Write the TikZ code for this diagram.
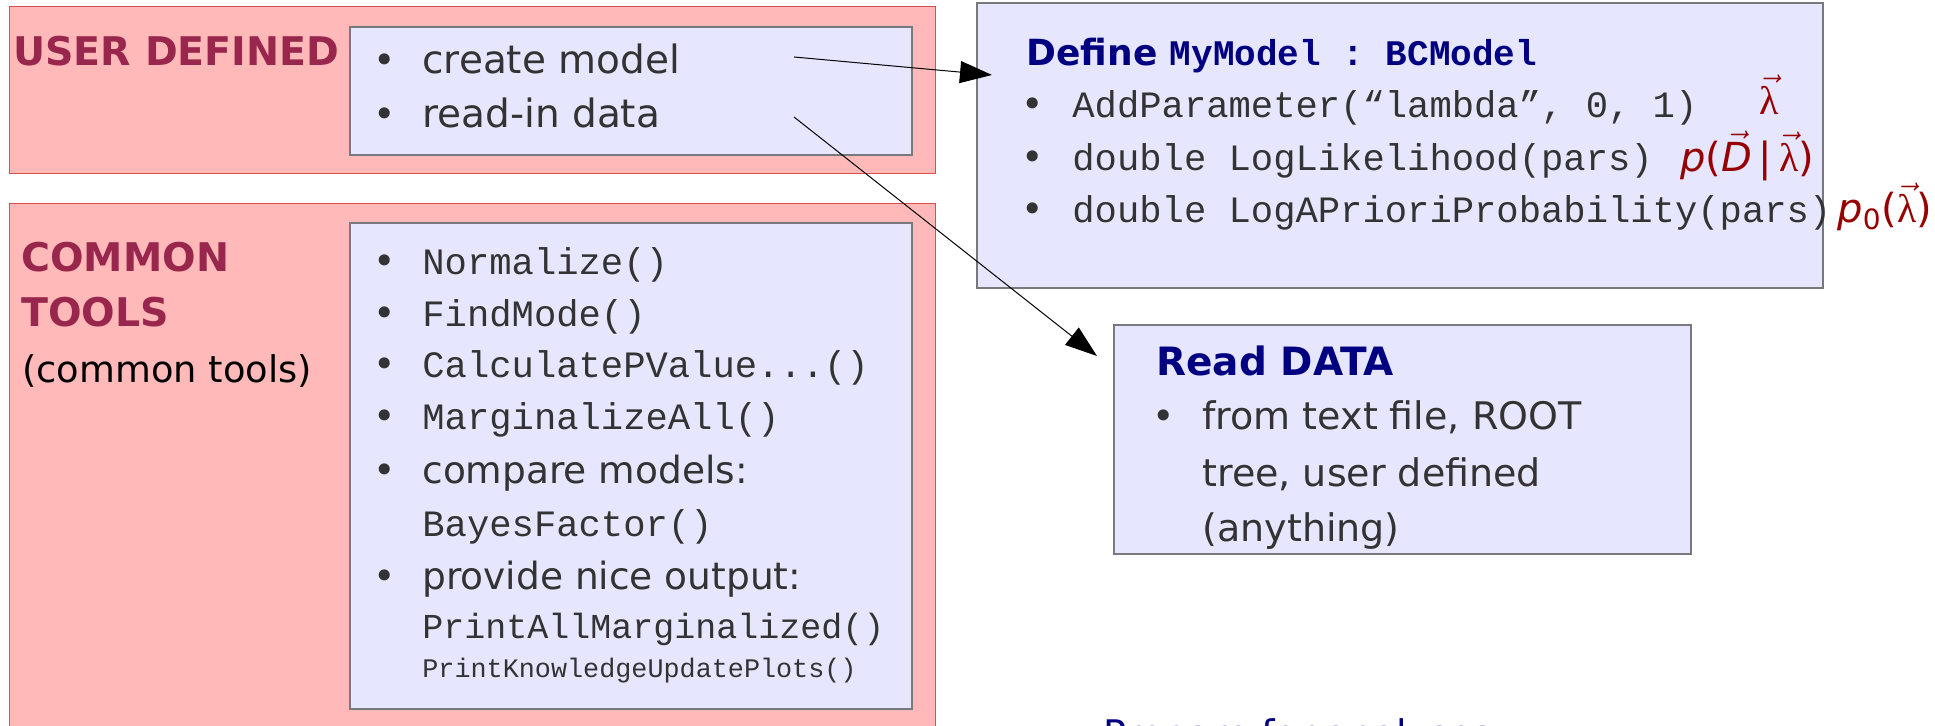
\documentclass[tikz,border=0pt]{standalone}
\usepackage{amsmath}
\usepackage{fontspec}
\setmainfont{DejaVu Sans}
\setmonofont{Liberation Mono}
\newfontfamily\lamfont{Liberation Serif}
\usetikzlibrary{arrows.meta}

\definecolor{pinkfill}{RGB}{255,185,185}
\definecolor{pinkline}{RGB}{215,80,80}
\definecolor{boxfill}{RGB}{230,230,255}
\definecolor{boxline}{RGB}{120,120,125}
\definecolor{titlered}{RGB}{153,38,76}
\definecolor{navyblue}{RGB}{0,0,128}
\definecolor{textgray}{RGB}{51,51,51}
\definecolor{mathred}{RGB}{150,0,0}

\newcommand{\vlam}{\ensuremath{\vec{\text{\lamfont λ}}}}
\newcommand{\vD}{\ensuremath{\vec{\text{\itshape D}}}}

\begin{document}
\begin{tikzpicture}[x=0.5pt, y=-0.5pt,
    outerbox/.style={draw=pinkline, fill=pinkfill, line width=0.5pt, minimum width=463pt, inner sep=0pt},
    innerbox/.style={draw=boxline, fill=boxfill, line width=0.75pt, inner sep=0pt},
    boxtitle/.style={anchor=base west, inner sep=0pt, font=\fontsize{19.75}{23}\selectfont\bfseries},
    textitem/.style={anchor=base west, inner sep=0pt, text=textgray, font=\fontsize{19}{23}\selectfont},
    codeitem/.style={anchor=base west, inner sep=0pt, text=textgray, font=\fontsize{18.6}{22}\selectfont\ttfamily},
    bulletmark/.style={anchor=base, inner sep=0pt, text=textgray, font=\fontsize{19}{23}\selectfont},
    mathlabel/.style={anchor=base west, inner sep=0pt, text=mathred, font=\fontsize{20}{24}\selectfont},
    flowarrow/.style={line width=0.5pt, -{Triangle[length=16pt, width=11pt]}}]

    \useasboundingbox (0, 0) rectangle (1935, 726);
    \clip (0, 0) rectangle (1935, 726);
    \fill[white] (0, 0) rectangle (1935, 726);

    % Boxes
    \node[outerbox, minimum height=83.5pt] at (472, 90.5) (userbox) {};
    \node[innerbox, minimum width=281pt, minimum height=64pt] at (631, 91) (userlist) {};
    \node[outerbox, minimum height=293pt] at (472, 497) (toolbox) {};
    \node[innerbox, minimum width=281pt, minimum height=243pt] at (631, 466) (toollist) {};
    \node[innerbox, minimum width=423pt, minimum height=142.5pt] at (1400, 145.5) (modelbox) {};
    \node[innerbox, minimum width=288.5pt, minimum height=114.5pt] at (1402.5, 439.5) (databox) {};

    % User defined
    \node[boxtitle, text=titlered] at (13, 66) (usertitle) {USER DEFINED};
    \node[bulletmark] at (385, 74) (ub1) {•};
    \node[textitem, font=\fontsize{19.5}{23}\selectfont] at (422, 74) (create) {create model};
    \node[bulletmark] at (385, 128) (ub2) {•};
    \node[textitem, font=\fontsize{19.5}{23}\selectfont] at (422, 128) (readin) {read-in data};

    % Common tools
    \node[boxtitle, text=titlered] at (21, 272) (tooltitle) {COMMON};
    \node[boxtitle, text=titlered] at (21, 327) (tooltitleb) {TOOLS};
    \node[textitem, text=black, font=\fontsize{18.4}{22}\selectfont] at (22, 383) (toolnote) {(common tools)};
    \node[bulletmark] at (385, 275) (tb1) {•};
    \node[codeitem] at (422, 275) (normalize) {Normalize()};
    \node[bulletmark] at (385, 327) (tb2) {•};
    \node[codeitem] at (422, 327) (findmode) {FindMode()};
    \node[bulletmark] at (385, 378) (tb3) {•};
    \node[codeitem] at (422, 378) (pvalue) {CalculatePValue...()};
    \node[bulletmark] at (385, 430) (tb4) {•};
    \node[codeitem] at (422, 430) (margall) {MarginalizeAll()};
    \node[bulletmark] at (385, 484) (tb5) {•};
    \node[textitem, font=\fontsize{18.75}{22}\selectfont] at (422, 484) (compare) {compare models:};
    \node[codeitem] at (422, 537) (bayes) {BayesFactor()};
    \node[bulletmark] at (385, 590) (tb6) {•};
    \node[textitem, font=\fontsize{18.75}{22}\selectfont] at (422, 590) (output) {provide nice output:};
    \node[codeitem, font=\fontsize{17.5}{21}\selectfont\ttfamily] at (422, 639) (printall) {PrintAllMarginalized()};
    \node[codeitem, font=\fontsize{13.4}{16}\selectfont\ttfamily] at (422, 678) (printknow) {PrintKnowledgeUpdatePlots()};

    % Model definition
    \node[boxtitle, text=navyblue, font=\fontsize{18}{22}\selectfont\bfseries] at (1026, 66) (define) {Define \texttt{MyModel : BCModel}};
    \node[bulletmark] at (1033, 118) (mb1) {•};
    \node[codeitem] at (1072, 118) (addpar) {AddParameter(“lambda”, 0, 1)};
    \node[bulletmark] at (1033, 171) (mb2) {•};
    \node[codeitem] at (1072, 171) (loglik) {double LogLikelihood(pars)};
    \node[bulletmark] at (1033, 223) (mb3) {•};
    \node[codeitem] at (1072, 223) (logprior) {double LogAPrioriProbability(pars)};
    \node[mathlabel] at (1759, 115) (lamlabel) {\vlam};
    \node[mathlabel] at (1680, 172) (liklabel) {\textit{p}(\vD\,|\,\vlam)};
    \node[mathlabel] at (1837, 223) (priorlabel) {\textit{p}\textsubscript{0}(\vlam)};

    % Read data
    \node[boxtitle, text=navyblue, font=\fontsize{19.5}{23}\selectfont\bfseries] at (1156, 376) (readtitle) {Read DATA};
    \node[bulletmark] at (1164, 430) (db1) {•};
    \node[textitem] at (1202, 430) (fromfile) {from text file, ROOT};
    \node[textitem] at (1202, 487) (fromtree) {tree, user defined};
    \node[textitem] at (1202, 542) (anything) {(anything)};

    \node[textitem, text=navyblue] at (1103, 748) (nextstep) {Prepare for analyses};

    % Arrows
    \coordinate (createend) at (794, 57);
    \coordinate (readend) at (794, 117);
    \coordinate (modeltip) at (992, 75);
    \coordinate (datatip) at (1097, 356);
    \draw[flowarrow] (createend) -- (modeltip);
    \draw[flowarrow] (readend) -- (datatip);

\end{tikzpicture}
\end{document}
